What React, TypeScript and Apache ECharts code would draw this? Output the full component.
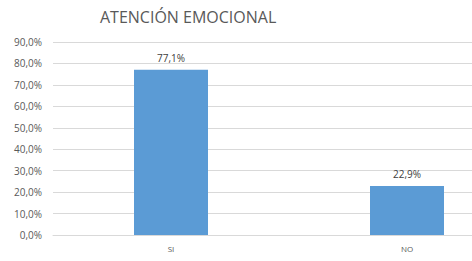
import React, { useEffect, useRef } from "react";
import * as echarts from "echarts";

const title = "ATENCIÓN EMOCIONAL";
const categories = ["SI", "NO"];
const values = [77.1, 22.9];
const yMin = 0;
const yMax = 90;
const yInterval = 10;

const fmt = (v: number) => v.toFixed(1).replace(".", ",") + "%";

export default function App() {
  const ref = useRef<HTMLDivElement>(null);
  useEffect(() => {
    document.body.style.margin = "0";
    const chart = echarts.init(ref.current!, null, { renderer: "svg" });
    chart.setOption({
      animation: false,
      backgroundColor: "#ffffff",
      title: {
        text: title,
        left: 100,
        top: 9,
        padding: 0,
        textStyle: {
          fontFamily: "Open Sans",
          fontSize: 16,
          fontWeight: "normal",
          color: "#595959",
        },
      },
      grid: { left: 53, right: 0, top: 42, bottom: 26, containLabel: false },
      xAxis: {
        type: "category",
        data: categories,
        axisLine: { show: true, lineStyle: { color: "#d9d9d9" } },
        axisTick: { show: false },
        axisLabel: { color: "#595959", fontSize: 8, fontFamily: "Open Sans", margin: 9 },
      },
      yAxis: {
        type: "value",
        min: yMin,
        max: yMax,
        interval: yInterval,
        axisLine: { show: false },
        axisTick: { show: false },
        splitLine: { lineStyle: { color: "#d9d9d9" } },
        axisLabel: {
          color: "#595959",
          fontSize: 10,
          fontFamily: "Open Sans",
          margin: 11,
          formatter: (v: number) => fmt(v),
        },
      },
      series: [
        {
          type: "bar",
          data: values,
          barWidth: 74,
          itemStyle: { color: "#5b9bd5" },
          label: {
            show: true,
            position: "top",
            distance: 7,
            color: "#404040",
            fontSize: 10,
            fontFamily: "Open Sans",
            formatter: (p: any) => fmt(p.value),
          },
        },
      ],
    });
    return () => chart.dispose();
  }, []);
  return (
    <div
      style={{
        position: "absolute",
        left: 0,
        top: 0,
        width: 472,
        height: 261,
        overflow: "hidden",
        background: "#ffffff",
      }}
    >
      <div ref={ref} style={{ width: 525, height: 261 }} />
    </div>
  );
}
